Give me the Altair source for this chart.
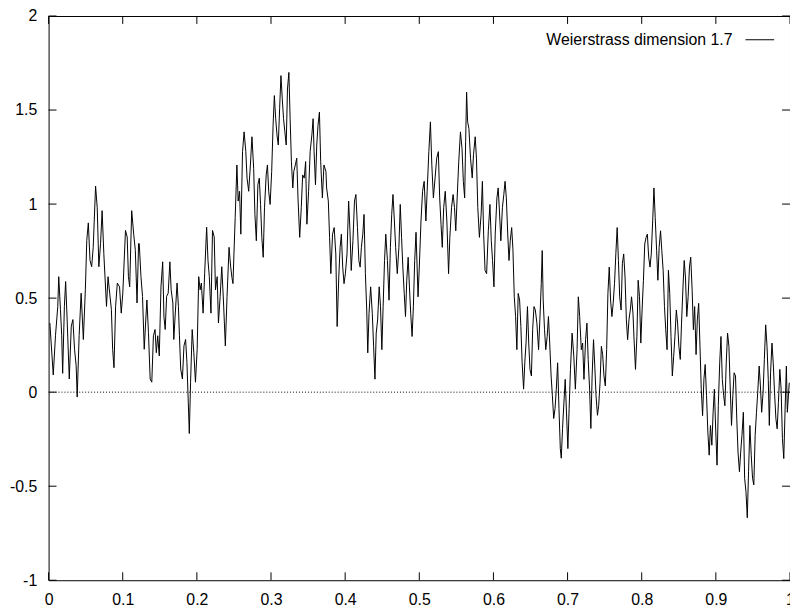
import altair as alt
import pandas as pd

series_name = "Weierstrass dimension 1.7"

x_part1 = [0.0017,0.0063,0.0093,0.0124,0.0137,0.0160,0.0177,0.0190,0.0213,0.0230,0.0249,0.0279,0.0306,0.0328,0.0350,0.0372,0.0386,0.0412,0.0439,0.0469,0.0496,0.0515,0.0536,0.0559,0.0581,0.0602,0.0634,0.0656,0.0678,0.0701,0.0722,0.0745,0.0781,0.0802,0.0824,0.0847,0.0864,0.0882,0.0904,0.0927,0.0957,0.0980,0.1001,0.1037,0.1060,0.1077,0.1094,0.1121,0.1148,0.1170,0.1193,0.1214]
y_part1 = [0.368,0.091,0.30,0.456,0.614,0.44,0.30,0.10,0.456,0.588,0.40,0.07,0.35,0.386,0.228,0.14,-0.026,0.30,0.526,0.28,0.544,0.807,0.90,0.70,0.667,0.77,1.096,0.98,0.667,0.79,0.965,0.737,0.456,0.614,0.526,0.44,0.228,0.13,0.456,0.58,0.56,0.42,0.526,0.86,0.825,0.614,0.56,0.965,0.84,0.754,0.474,0.79]

x_part2 = [0.1223,0.1246,0.1267,0.1290,0.1313,0.1326,0.1347,0.1370,0.1392,0.1414,0.1436,0.1453,0.1472,0.1493,0.1516,0.1539,0.1556,0.1573,0.1592,0.1613,0.1636,0.1653,0.1676,0.1689,0.1706,0.1733,0.1751,0.1765,0.1782,0.1805,0.1826,0.1848,0.1866,0.1884,0.1898,0.1915,0.1937,0.1959,0.1981,0.2004,0.2025,0.2044,0.2061,0.2084,0.2105,0.2132,0.2150,0.2168,0.2190,0.2211,0.2234,0.2251,0.2274,0.2291,0.2314,0.2336,0.2358,0.2384,0.2407]
y_part2 = [0.79,0.614,0.509,0.228,0.40,0.49,0.316,0.07,0.053,0.30,0.333,0.21,0.30,0.193,0.56,0.693,0.40,0.333,0.509,0.526,0.693,0.544,0.474,0.28,0.40,0.58,0.456,0.30,0.123,0.07,0.246,0.28,0.158,-0.053,-0.22,0.053,0.333,0.21,0.053,0.228,0.614,0.544,0.58,0.42,0.63,0.877,0.70,0.614,0.42,0.86,0.825,0.544,0.614,0.368,0.509,0.667,0.49,0.246,0.509]

x_part3 = [0.2434,0.2456,0.2473,0.2487,0.2500,0.2517,0.2540,0.2557,0.2576,0.2593,0.2616,0.2637,0.2660,0.2677,0.2699,0.2722,0.2743,0.2766,0.2783,0.2802,0.2823,0.2842,0.2859,0.2876,0.2895,0.2912,0.2935,0.2952,0.2969,0.2988,0.3009,0.3028,0.3045,0.3063,0.3081,0.3098,0.3116,0.3134,0.3152,0.3169,0.3187,0.3205,0.3222,0.3241,0.3258,0.3275,0.3294,0.3307,0.3328,0.3347,0.3364,0.3387,0.3408,0.3427,0.3448,0.3467,0.3484,0.3507,0.3528,0.3551,0.3568,0.3581,0.3600,0.3617,0.3634,0.3653,0.3670,0.3693,0.3714,0.3741]
y_part3 = [0.77,0.666,0.61,0.577,0.735,0.928,1.208,1.016,1.068,0.84,1.279,1.384,1.279,1.138,1.068,1.208,1.358,1.19,0.945,0.805,1.103,1.138,0.998,0.823,0.717,0.98,1.155,1.208,1.068,0.998,1.173,1.419,1.577,1.454,1.367,1.314,1.507,1.683,1.56,1.454,1.384,1.314,1.612,1.7,1.454,1.226,1.086,1.173,1.208,1.244,1.033,0.823,0.98,1.155,1.138,1.226,0.893,1.068,1.279,1.367,1.454,1.279,1.103,1.314,1.419,1.489,1.226,1.033,1.208,1.173]

x_part4 = [0.3750,0.3773,0.3790,0.3807,0.3830,0.3852,0.3874,0.3892,0.3914,0.3932,0.3949,0.3967,0.3985,0.4003,0.4025,0.4047,0.4065,0.4082,0.4105,0.4126,0.4145,0.4166,0.4185,0.4202,0.4219,0.4238,0.4255,0.4273,0.4291,0.4305,0.4322,0.4344,0.4366,0.4384,0.4402,0.4419,0.4438,0.4459,0.4477,0.4495,0.4512,0.4531,0.4548,0.4570,0.4592,0.4610,0.4628,0.4645,0.4664,0.4681,0.4703,0.4725,0.4743,0.4761,0.4778,0.4797,0.4814,0.4831,0.4850,0.4867,0.4884,0.4903,0.4920,0.4938,0.4956]
y_part4 = [1.086,1.016,0.823,0.63,0.84,0.875,0.735,0.349,0.612,0.77,0.84,0.665,0.577,0.63,0.735,1.016,0.858,0.647,0.805,1.016,1.051,0.875,0.70,0.665,0.77,0.84,0.945,0.63,0.437,0.209,0.419,0.56,0.419,0.244,0.069,0.314,0.384,0.56,0.454,0.226,0.454,0.70,0.84,0.70,0.489,0.77,0.945,1.051,0.91,0.77,0.63,0.77,0.998,0.823,0.665,0.524,0.402,0.595,0.717,0.56,0.419,0.296,0.454,0.70,0.85]

x_part5 = [0.4983,0.5000,0.5023,0.5044,0.5066,0.5089,0.5106,0.5129,0.5150,0.5169,0.5190,0.5213,0.5235,0.5257,0.5275,0.5293,0.5310,0.5329,0.5350,0.5372,0.5395,0.5412,0.5435,0.5456,0.5475,0.5492,0.5509,0.5532,0.5555,0.5576,0.5594,0.5612,0.5625,0.5638,0.5652,0.5669,0.5691,0.5714,0.5731,0.5754,0.5771,0.5789,0.5811,0.5834,0.5851,0.5868,0.5887,0.5908,0.5931,0.5953,0.5971,0.5988,0.6007,0.6024,0.6047,0.6064,0.6081,0.6100,0.6121,0.6140,0.6157,0.6174,0.6193,0.6210,0.6227,0.6246,0.6263]
y_part5 = [0.507,0.665,0.91,1.068,1.121,0.91,1.068,1.279,1.437,1.209,1.033,1.139,1.244,1.279,1.033,0.893,0.77,0.981,1.068,0.91,0.63,0.823,0.981,1.051,0.981,0.858,1.016,1.226,1.384,1.297,1.121,1.033,1.332,1.595,1.437,1.402,1.244,1.139,1.262,1.358,1.244,0.981,0.823,0.946,1.121,0.84,0.647,0.63,0.858,0.998,0.805,0.70,0.56,0.84,1.033,1.086,0.963,0.805,0.981,1.051,1.121,1.033,0.84,0.70,0.805,0.875,0.76]

x_part6 = [0.6281,0.6299,0.6316,0.6334,0.6353,0.6370,0.6387,0.6407,0.6423,0.6440,0.6459,0.6476,0.6493,0.6512,0.6529,0.6547,0.6565,0.6586,0.6609,0.6626,0.6645,0.6658,0.6671,0.6689,0.6706,0.6725,0.6742,0.6759,0.6778,0.6795,0.6813,0.6831,0.6848,0.6866,0.6884,0.6902,0.6915,0.6932,0.6951,0.6968,0.6985,0.7004,0.7021,0.7039,0.7061,0.7084,0.7105,0.7128,0.7145,0.7163,0.7185,0.7203,0.7221,0.7243,0.7261,0.7278,0.7297,0.7314,0.7331,0.7350,0.7367,0.7384,0.7403,0.7420,0.7438,0.7456]
y_part6 = [0.507,0.402,0.226,0.525,0.49,0.349,0.156,0.016,0.156,0.261,0.455,0.261,0.121,0.086,0.332,0.455,0.437,0.367,0.226,0.384,0.577,0.753,0.49,0.332,0.226,0.297,0.402,0.261,0.086,-0.019,-0.14,-0.088,0.016,0.156,-0.088,-0.30,-0.351,-0.193,-0.053,0.068,-0.105,-0.30,-0.088,0.121,0.314,0.191,0.016,0.226,0.507,0.402,0.226,0.261,0.068,0.279,0.367,0.174,0.016,-0.193,0.086,0.279,0.139,-0.019,-0.123,-0.07,0.051,0.244]

x_part7 = [0.7473,0.7491,0.7509,0.7527,0.7544,0.7562,0.7580,0.7598,0.7615,0.7633,0.7651,0.7669,0.7686,0.7703,0.7722,0.7739,0.7757,0.7775,0.7793,0.7810,0.7828,0.7846,0.7863,0.7882,0.7899,0.7916,0.7935,0.7952,0.7970,0.7988,0.8005,0.8023,0.8041,0.8059,0.8076,0.8094,0.8112,0.8129,0.8148,0.8165,0.8182,0.8201,0.8218,0.8235,0.8254,0.8271,0.8289,0.8307,0.8324,0.8342,0.8360,0.8378,0.8395,0.8413,0.8431,0.8448,0.8467,0.8484,0.8501,0.8520,0.8537,0.8555,0.8573,0.8590,0.8608,0.8626,0.8644,0.8661,0.8680,0.8697]
y_part7 = [0.20,0.086,0.033,0.226,0.525,0.665,0.49,0.402,0.472,0.577,0.735,0.875,0.70,0.507,0.437,0.683,0.735,0.612,0.384,0.279,0.384,0.437,0.507,0.42,0.261,0.121,0.297,0.595,0.507,0.261,0.437,0.595,0.788,0.823,0.84,0.718,0.665,0.735,0.911,1.086,0.928,0.753,0.595,0.77,0.858,0.753,0.648,0.455,0.332,0.226,0.648,0.525,0.297,0.086,0.191,0.297,0.437,0.367,0.244,0.174,0.367,0.543,0.70,0.612,0.402,0.507,0.665,0.718,0.543,0.332]

x_part8 = [0.8714,0.8733,0.8750,0.8768,0.8786,0.8803,0.8821,0.8839,0.8856,0.8874,0.8892,0.8910,0.8927,0.8946,0.8963,0.8980,0.8999,0.9016,0.9033,0.9052,0.9069,0.9087,0.9105,0.9122,0.9140,0.9158,0.9176,0.9193,0.9211,0.9229,0.9246,0.9265,0.9282,0.9299,0.9318,0.9335,0.9352,0.9371,0.9388,0.9406,0.9424,0.9441,0.9459,0.9477,0.9495,0.9512,0.9530,0.9548,0.9565,0.9584,0.9601,0.9618,0.9637,0.9654,0.9672,0.9690,0.9707,0.9721,0.9738,0.9757,0.9774,0.9791,0.9810,0.9827,0.9844,0.9863,0.9880,0.9898,0.9916,0.9934,0.9951,0.9964,0.9990]
y_part8 = [0.455,0.20,0.384,0.472,0.244,0.016,-0.125,0.068,0.147,-0.019,-0.212,-0.335,-0.177,-0.282,-0.107,0.016,-0.212,-0.388,-0.072,0.156,0.296,0.068,-0.019,-0.072,0.156,0.314,0.244,0.033,-0.177,-0.019,0.103,0.086,-0.142,-0.318,-0.423,-0.318,-0.23,-0.107,-0.458,-0.528,-0.668,-0.423,-0.177,-0.335,-0.458,-0.493,-0.23,-0.107,0.0,0.139,0.033,-0.107,0.0,0.174,0.358,0.244,0.068,-0.177,0.103,0.261,0.156,0.0,-0.142,-0.195,-0.054,0.121,0.016,-0.247,-0.353,-0.09,0.139,-0.107,0.05]

x_ticks = [0, 0.1, 0.2, 0.3, 0.4, 0.5, 0.6, 0.7, 0.8, 0.9, 1]
y_ticks = [-1, -0.5, 0, 0.5, 1, 1.5, 2]
zero_level = [0]

xs_all, ys_all = [], []
for xp, yp in [(x_part1, y_part1), (x_part2, y_part2), (x_part3, y_part3), (x_part4, y_part4),
               (x_part5, y_part5), (x_part6, y_part6), (x_part7, y_part7), (x_part8, y_part8)]:
    for a, b in zip(xp, yp):
        xs_all.append(a)
        ys_all.append(b)

df = pd.DataFrame({"x": xs_all, "y": ys_all, "series": series_name})
xt = pd.DataFrame({"x": x_ticks})
yt = pd.DataFrame({"y": y_ticks})
zero_df = pd.DataFrame({"y": zero_level})
leg_df = pd.DataFrame({"series": [series_name]})

W, H = 749, 570
FONT = "Liberation Sans"
FS = 16

x_scale = alt.Scale(domain=[0, 1], nice=False, zero=False)
y_scale = alt.Scale(domain=[-1, 2], nice=False, zero=False)
x_axis = alt.Axis(values=x_ticks, labelExpr="datum.value + ''", ticks=False, domain=False, grid=False,
                  labelPadding=12, labelFontSize=FS, labelFont=FONT, labelColor="black",
                  labelFlush=False, labelOverlap=False, title=None)
y_axis = alt.Axis(values=y_ticks, labelExpr="datum.value + ''", ticks=False, domain=False, grid=False,
                  labelPadding=12, labelFontSize=FS, labelFont=FONT, labelColor="black",
                  labelOverlap=False, title=None)

X = lambda f: alt.X(f, scale=x_scale, axis=x_axis)
Y = lambda f: alt.Y(f, scale=y_scale, axis=y_axis)

line = alt.Chart(df).mark_line(color="black", strokeWidth=1, clip=True).encode(
    x=X("x:Q"), y=Y("y:Q"), detail="series:N")

zero_line = alt.Chart(zero_df).mark_rule(color="black", strokeWidth=1, strokeDash=[1, 2]).encode(y=Y("y:Q"))

xtick_bottom = alt.Chart(xt).mark_rule(color="black", strokeWidth=1).encode(
    x=X("x:Q"), y=alt.value(H), y2=alt.value(H - 8))
xtick_top = alt.Chart(xt).mark_rule(color="black", strokeWidth=1).encode(
    x=X("x:Q"), y=alt.value(0), y2=alt.value(8))
ytick_left = alt.Chart(yt).mark_rule(color="black", strokeWidth=1).encode(
    y=Y("y:Q"), x=alt.value(0), x2=alt.value(8))
ytick_right = alt.Chart(yt).mark_rule(color="black", strokeWidth=1).encode(
    y=Y("y:Q"), x=alt.value(W - 8), x2=alt.value(W))

leg_text = alt.Chart(leg_df).mark_text(align="right", baseline="middle", font=FONT, fontSize=FS,
                                       color="black").encode(
    text="series:N", x=alt.value(691), y=alt.value(24))
leg_line = alt.Chart(leg_df).mark_rule(color="black", strokeWidth=1).encode(
    x=alt.value(704), x2=alt.value(733), y=alt.value(24), detail="series:N")

chart = alt.layer(zero_line, line, xtick_bottom, xtick_top, ytick_left, ytick_right, leg_text, leg_line).properties(
    width=W, height=H,
    padding={"left": 41, "top": 5, "right": 0, "bottom": 29},
    autosize=alt.AutoSizeParams(type="none"),
    background="white",
).configure_view(stroke="black", strokeWidth=1)

chart.save("out.html", embed_options={"renderer": "svg", "actions": False})
